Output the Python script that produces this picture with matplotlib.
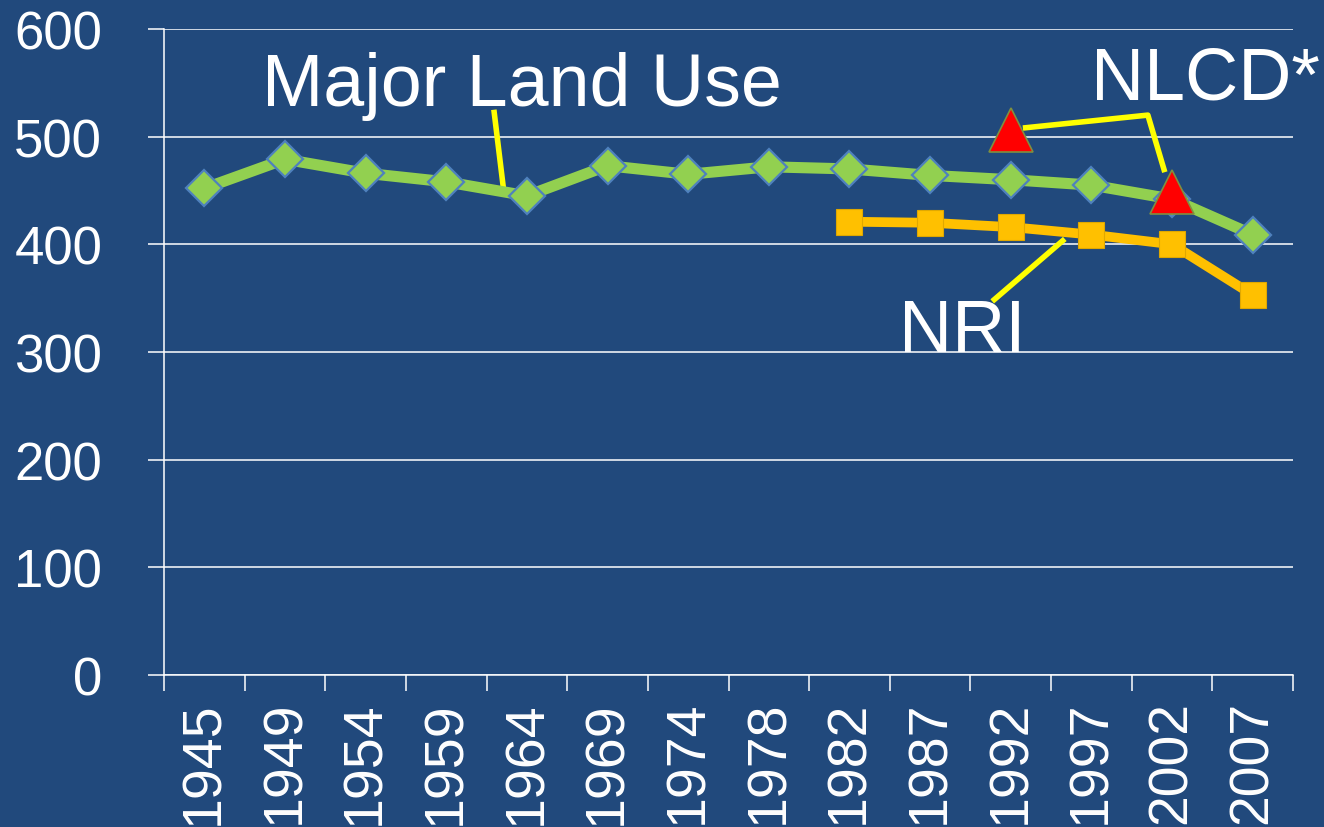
import numpy as np
from matplotlib import pyplot as plt

plt.rcParams['font.family'] = ['Liberation Sans', 'DejaVu Sans']

# Data (million acres)
years = ['1945', '1949', '1954', '1959', '1964', '1969', '1974', '1978',
         '1982', '1987', '1992', '1997', '2002', '2007']
major_land_use = [452, 479, 466, 458, 445, 473, 465, 472, 470, 464, 460, 455, 442, 409]
nri_years = ['1982', '1987', '1992', '1997', '2002', '2007']
nri = [421, 420, 416, 409, 400, 353]
nlcd_years = ['1992', '2002']
nlcd = [506, 449]

bg = '#21497C'
x = np.arange(len(years))
x_nri = [years.index(y) for y in nri_years]
x_nlcd = [years.index(y) for y in nlcd_years]

fig = plt.figure(figsize=(13.24, 8.28), dpi=100, facecolor=bg)
ax = fig.add_axes([0.1239, 0.1836, 0.8527, 0.7802], facecolor=bg)

# series
ax.plot(x, major_land_use, color='#92D050', lw=8, marker='D', ms=18.5,
        mfc='#92D050', mec='#4F81BD', mew=1.6, zorder=3)
ax.plot(x_nri, nri, color='#FFC000', lw=7, marker='s', ms=19,
        mfc='#FFC000', mec='#E0A800', mew=0.8, zorder=4)
ax.plot(x_nlcd, nlcd, ls='none', marker='^', ms=31,
        mfc='#FF0000', mec='#7F8F3F', mew=1.2, zorder=5)

# labels with yellow leader lines
lbl = dict(color='white', fontsize=53, va='baseline', ha='left')
ax.text(0.71, 529, 'Major Land Use', **lbl)
ax.text(11.0, 535, 'NLCD*', clip_on=False, **lbl)
ax.text(8.62, 301, 'NRI', **lbl)
lead = dict(color='#FFFF00', lw=4, solid_capstyle='butt', zorder=2, clip_on=False)
ax.plot([3.59, 3.71], [525, 451], **lead)
ax.plot([10.15, 11.70, 11.91], [508, 520, 467], **lead)
ax.plot([9.77, 10.67], [347, 405], **lead)

# axes
ax.set_xlim(-0.5, len(years) - 0.5)
ax.set_ylim(0, 600)
ax.set_yticks(np.arange(0, 601, 100))
ax.set_xticks(np.arange(-0.5, len(years), 1))
ax.set_xticklabels([])
ax.set_xticks(x, minor=True)
ax.set_xticklabels(years, minor=True, rotation=90, va='top')
ax.tick_params(axis='x', which='major', length=11.5, width=1.1, color='white')
ax.tick_params(axis='x', which='minor', length=0, pad=18, labelsize=40, labelcolor='white')
ax.tick_params(axis='y', length=11.5, width=1.1, color='white', pad=33,
               labelsize=38, labelcolor='white')
ax.grid(axis='y', color='white', lw=1.1)
ax.set_axisbelow(True)
for s in ['top', 'right']:
    ax.spines[s].set_visible(False)
for s in ['left', 'bottom']:
    ax.spines[s].set_color('white')
    ax.spines[s].set_linewidth(1.1)

fig.savefig('out.png', dpi=100, facecolor=bg)
